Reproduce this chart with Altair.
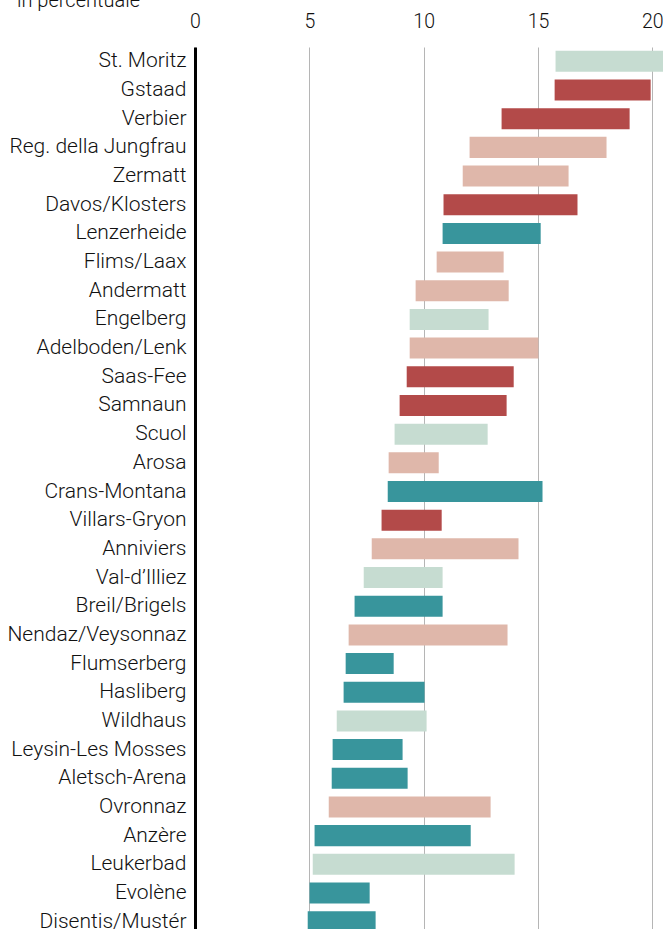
import altair as alt
import pandas as pd

resorts = ["St. Moritz", "Gstaad", "Verbier", "Reg. della Jungfrau", "Zermatt",
           "Davos/Klosters", "Lenzerheide", "Flims/Laax", "Andermatt", "Engelberg",
           "Adelboden/Lenk", "Saas-Fee", "Samnaun", "Scuol", "Arosa",
           "Crans-Montana", "Villars-Gryon", "Anniviers", "Val-d\u2019Illiez", "Breil/Brigels",
           "Nendaz/Veysonnaz", "Flumserberg", "Hasliberg", "Wildhaus", "Leysin-Les Mosses",
           "Aletsch-Arena", "Ovronnaz", "Anz\u00e8re", "Leukerbad", "Evol\u00e8ne",
           "Disentis/Must\u00e9r"]
low = [15.77, 15.73, 13.41, 12.01, 11.71, 10.87, 10.83, 10.57, 9.65, 9.39,
       9.39, 9.26, 8.95, 8.73, 8.47, 8.43, 8.16, 7.73, 7.38, 6.98,
       6.72, 6.59, 6.50, 6.20, 6.02, 5.98, 5.85, 5.23, 5.15, 5.01, 4.93]
high = [21.0, 19.93, 19.01, 18.00, 16.34, 16.73, 15.12, 13.50, 13.72, 12.84,
        15.02, 13.94, 13.63, 12.80, 10.66, 15.20, 10.79, 14.15, 10.83, 10.83,
        13.67, 8.69, 10.04, 10.13, 9.08, 9.30, 12.93, 12.06, 13.98, 7.64, 7.90]
group = ["A", "B", "B", "C", "C", "B", "D", "C", "C", "A",
         "C", "B", "B", "A", "C", "D", "B", "C", "A", "D",
         "C", "D", "D", "A", "D", "D", "C", "D", "A", "D", "D"]
group_names = ["A", "B", "C", "D"]
group_colors = ["#c6dcd1", "#b34a49", "#dfb7aa", "#38959c"]
ticks = [0, 5, 10, 15, 20]

df = pd.DataFrame({"resort": resorts, "low": low, "high": high, "group": group})

FONT = "Roboto"

bars = alt.Chart(df).mark_bar(clip=True).encode(
    y=alt.Y("resort:N", sort=resorts,
            scale=alt.Scale(paddingInner=0.267, paddingOuter=0.1335),
            axis=alt.Axis(title=None, domain=True, domainColor="#000000", domainWidth=3,
                          ticks=False, grid=False, labelFont=FONT, labelFontSize=21,
                          labelFontWeight=300, labelColor="#111111", labelPadding=9,
                          labelLimit=300, labelOffset=0)),
    x=alt.X("low:Q", scale=alt.Scale(domain=[0, 20.47], nice=False, zero=False),
            axis=alt.Axis(orient="top", title=None, values=ticks, domain=False,
                          ticks=False, grid=True, gridColor="#b5b5b5", gridWidth=1,
                          labelFont=FONT, labelFontSize=19.5, labelFontWeight=300,
                          labelColor="#111111", labelPadding=16, labelFlush=False)),
    x2="high:Q",
    color=alt.Color("group:N", scale=alt.Scale(domain=group_names, range=group_colors),
                    legend=None),
)

title = alt.Chart(pd.DataFrame({"t": ["in percentuale"]})).mark_text(
    align="left", baseline="alphabetic", font=FONT, fontSize=20, fontWeight=300,
    color="#111111"
).encode(text="t:N", x=alt.value(-178), y=alt.value(-40.5))

chart = alt.layer(bars, title).properties(
    width=468, height=889,
    autosize=alt.AutoSizeParams(type="none"),
    padding={"left": 195, "top": 47, "right": 0, "bottom": 0},
).configure_view(stroke=None).configure_axis(domainCap="butt")

chart.save("out.html", embed_options={"renderer": "svg", "actions": False})
